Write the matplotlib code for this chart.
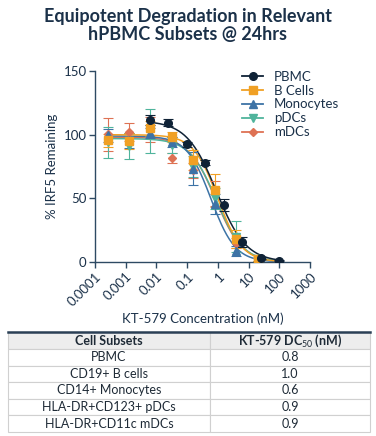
import numpy as np
import matplotlib
matplotlib.use("Agg")
import matplotlib.pyplot as plt

plt.rcParams['font.family'] = ['Lato', 'DejaVu Sans']
plt.rcParams['mathtext.fontset'] = 'custom'
plt.rcParams['mathtext.rm'] = 'Lato'
plt.rcParams['mathtext.it'] = 'Lato'
plt.rcParams['mathtext.bf'] = 'Lato:bold'

NAVY = '#1b3149'
AXC = '#2e4a63'

# concentrations (nM)
conc_pbmc = [0.0061, 0.0244, 0.098, 0.39, 1.56, 6.25, 25, 100]
conc_sub = [0.000256, 0.00128, 0.0064, 0.032, 0.16, 0.8, 4, 20]

pbmc = [111.5, 109.5, 92.5, 78, 44.8, 16, 3, 1]
pbmc_err = [4, 3, 2, 2, 5, 4, 1, 0.5]
bcells = [95.5, 95, 105, 98, 80, 56.4, 18, 2]
bcells_err = [5, 6, 6, 4, 8, 13, 7, 1]
mono = [99.5, 95.6, 101.5, 94.5, 73.3, 45.5, 8.9, 2]
mono_err = [5, 6, 4, 4, 13, 8, 4, 1]
pdcs = [94, 91, 103, 92, 75, 50, 20, 2]
pdcs_err = [12, 10, 17, 6, 8, 8, 12, 1]
mdcs = [100.5, 102, 104, 82, 72, 54, 15, 2]
mdcs_err = [13, 7, 10, 4, 6, 10, 4, 1]

# fitted curve parameters: top, DC50, hill
fits = {
    'PBMC': (111, 0.9, 0.9),
    'B Cells': (100, 1.0, 1.1),
    'Monocytes': (99, 0.6, 1.1),
    'pDCs': (97, 0.9, 1.0),
    'mDCs': (98, 0.85, 1.0),
}

series = [
    ('PBMC', conc_pbmc, pbmc, pbmc_err, '#0f2236', 'o'),
    ('B Cells', conc_sub, bcells, bcells_err, '#f0a024', 's'),
    ('Monocytes', conc_sub, mono, mono_err, '#3d73a6', '^'),
    ('pDCs', conc_sub, pdcs, pdcs_err, '#4fb49c', 'v'),
    ('mDCs', conc_sub, mdcs, mdcs_err, '#de7254', 'D'),
]

table_cells = ['PBMC', 'CD19+ B cells', 'CD14+ Monocytes',
               'HLA-DR+CD123+ pDCs', 'HLA-DR+CD11c mDCs']
table_dc50 = ['0.8', '1.0', '0.6', '0.9', '0.9']

fig = plt.figure(figsize=(3.76, 4.36), dpi=100)
fig.text(0.5, 0.982, 'Equipotent Degradation in Relevant\nhPBMC Subsets @ 24hrs',
         ha='center', va='top', fontsize=13, fontweight='bold', color=NAVY,
         linespacing=1.05)

ax = fig.add_axes([0.2527, 0.399, 0.5718, 0.438])
for name, x, y, e, c, m in reversed(series):
    top, ec50, h = fits[name]
    xs = np.logspace(np.log10(x[0]), 2, 200)
    ax.plot(xs, top / (1 + (xs / ec50) ** h), color=c, lw=1.1, zorder=2)
    ax.errorbar(x, y, yerr=e, fmt=m, color=c, ms=5.5 if m != 'D' else 4.5,
                capsize=3.5, elinewidth=0.8, capthick=0.8, zorder=3)

handles = []
for name, x, y, e, c, m in series:
    h, = ax.plot([], [], color=c, marker=m, ms=5.5 if m != 'D' else 4.5, lw=1.3, label=name)
    handles.append(h)
ax.legend(handles=handles, loc='upper right', bbox_to_anchor=(1.19, 1.065),
          frameon=False, fontsize=9.5, handlelength=1.6, labelspacing=0.15,
          handletextpad=0.8, labelcolor=NAVY)

ax.set_xscale('log')
ax.set_xlim(0.0001, 1000)
ax.set_ylim(0, 150)
ax.set_yticks([0, 50, 100, 150])
ax.set_xticks([0.0001, 0.001, 0.01, 0.1, 1, 10, 100, 1000])
ax.set_xticklabels(['0.0001', '0.001', '0.01', '0.1', '1', '10', '100', '1000'],
                   rotation=45, ha='right', rotation_mode='anchor')
ax.minorticks_off()
for s in ['top', 'right']:
    ax.spines[s].set_visible(False)
for s in ['left', 'bottom']:
    ax.spines[s].set_color(AXC)
    ax.spines[s].set_linewidth(1.0)
ax.tick_params(colors=AXC, labelcolor=NAVY, labelsize=9.5, length=4, width=1, pad=2)
ax.set_ylabel('% IRF5 Remaining', fontsize=9.5, color=NAVY)
ax.set_xlabel('KT-579 Concentration (nM)', fontsize=9.5, color=NAVY, labelpad=3)

# table
tax = fig.add_axes([0.021, 0.009, 0.963, 0.229])
tax.axis('off')
rows = [[a, b] for a, b in zip(table_cells, table_dc50)]
tbl = tax.table(cellText=rows, colLabels=['Cell Subsets', r'KT-579 DC$_{50}$ (nM)'],
                cellLoc='center', colWidths=[0.558, 0.442],
                bbox=[0, 0, 1, 1])
tbl.auto_set_font_size(False)
for (r, c), cell in tbl.get_celld().items():
    cell.set_edgecolor('#d0d0d0')
    cell.set_linewidth(0.8)
    cell.get_text().set_fontsize(9)
    cell.get_text().set_color('#1e2a36')
    if r == 0:
        cell.set_facecolor('#ededed')
        cell.get_text().set_fontweight('bold')
tax.plot([0, 1], [1, 1], color='#2a3f55', lw=1.8, transform=tax.transAxes, clip_on=False)

fig.savefig('out.png', dpi=100)
